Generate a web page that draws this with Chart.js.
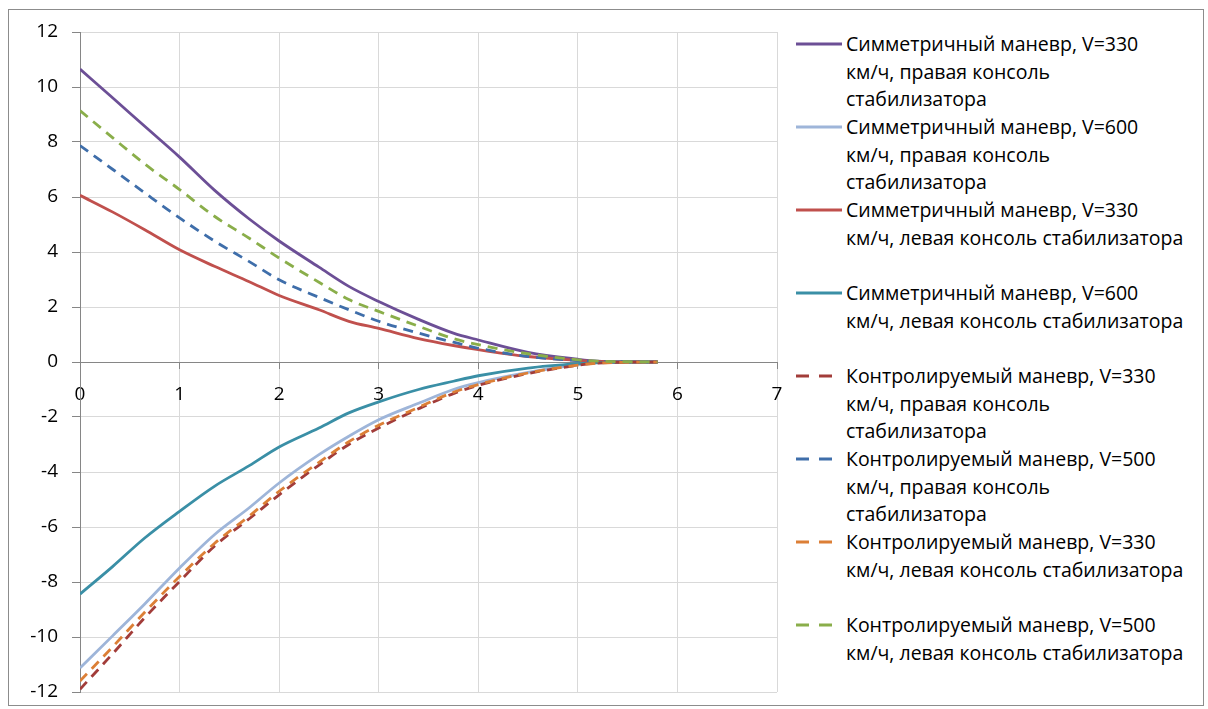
<!DOCTYPE html>
<html>
<head>
<meta charset="utf-8">
<title>Манёвр</title>
<script src="https://cdn.jsdelivr.net/npm/chart.js"></script>
<style>
  body { margin: 0; background: #fff; font-family: "Open Sans", sans-serif; }
  #frame { position: absolute; left: 8px; top: 9px; width: 1194px; height: 695px; border: 1px solid #8c8c8c; }
  #chart { position: absolute; left: 0; top: 0; }
  #legend { position: absolute; left: 796px; top: 30px; font-size: 19.5px; line-height: 27.7px; color: #000; }
  .item { position: relative; height: 83px; padding-left: 50px; white-space: nowrap; }
  .item svg { position: absolute; left: 0; top: 12px; }
</style>
</head>
<body>
<div id="frame"></div>
<canvas id="chart" width="790" height="709"></canvas>
<div id="legend"></div>
<script>
  const xValues = [0, 0.33, 0.65, 1, 1.35, 1.7, 2, 2.4, 2.7, 3, 3.4, 3.75, 4, 4.5, 5, 5.2, 5.5, 5.8];

  const sym330Right = [10.65, 9.6, 8.57, 7.45, 6.25, 5.2, 4.4, 3.45, 2.75, 2.2, 1.55, 1.05, 0.8, 0.35, 0.1, 0.03, 0.01, 0];
  const sym600Right = [-11.13, -9.95, -8.8, -7.49, -6.28, -5.3, -4.4, -3.37, -2.7, -2.1, -1.5, -1.0, -0.75, -0.38, -0.1, -0.03, -0.01, 0];
  const sym330Left = [6.06, 5.45, 4.81, 4.08, 3.48, 2.92, 2.42, 1.9, 1.48, 1.22, 0.85, 0.6, 0.45, 0.2, 0.06, 0.02, 0, 0];
  const sym600Left = [-8.44, -7.43, -6.4, -5.43, -4.52, -3.77, -3.09, -2.4, -1.85, -1.45, -1.0, -0.7, -0.5, -0.22, -0.06, -0.02, 0, 0];
  const ctl330Right = [-11.9, -10.6, -9.3, -7.98, -6.7, -5.7, -4.83, -3.75, -3.0, -2.4, -1.7, -1.15, -0.85, -0.42, -0.12, -0.04, -0.01, 0];
  const ctl500Right = [7.87, 7.0, 6.15, 5.24, 4.4, 3.65, 2.99, 2.35, 1.9, 1.48, 1.05, 0.72, 0.5, 0.2, 0.05, 0.02, 0, 0];
  const ctl330Left = [-11.6, -10.35, -9.1, -7.8, -6.6, -5.6, -4.7, -3.65, -2.9, -2.3, -1.65, -1.1, -0.82, -0.4, -0.11, -0.04, -0.01, 0];
  const ctl500Left = [9.14, 8.15, 7.2, 6.27, 5.3, 4.5, 3.78, 2.9, 2.27, 1.84, 1.3, 0.85, 0.63, 0.3, 0.08, 0.03, 0.01, 0];

  const seriesNames = [
    ['Симметричный маневр, V=330', 'км/ч, правая консоль', 'стабилизатора'],
    ['Симметричный маневр, V=600', 'км/ч, правая консоль', 'стабилизатора'],
    ['Симметричный маневр, V=330', 'км/ч, левая консоль стабилизатора'],
    ['Симметричный маневр, V=600', 'км/ч, левая консоль стабилизатора'],
    ['Контролируемый маневр, V=330', 'км/ч, правая консоль', 'стабилизатора'],
    ['Контролируемый маневр, V=500', 'км/ч, правая консоль', 'стабилизатора'],
    ['Контролируемый маневр, V=330', 'км/ч, левая консоль стабилизатора'],
    ['Контролируемый маневр, V=500', 'км/ч, левая консоль стабилизатора']
  ];
  const seriesValues = [sym330Right, sym600Right, sym330Left, sym600Left, ctl330Right, ctl500Right, ctl330Left, ctl500Left];
  const colors = ['#6c4f96', '#9eb5d9', '#c0504d', '#3a8fa6', '#a23c39', '#3f6eaa', '#dc7f36', '#8aae4a'];
  const dashed = [false, false, false, false, true, true, true, true];

  const datasets = seriesValues.map((vals, i) => ({
    label: seriesNames[i].join(' '),
    data: vals.map((v, j) => ({ x: xValues[j], y: v })),
    borderColor: colors[i],
    borderWidth: 2.8,
    borderDash: dashed[i] ? [10, 7] : [],
    pointRadius: 0,
    cubicInterpolationMode: 'monotone',
    fill: false,
    order: 8 - i
  }));

  new Chart(document.getElementById('chart'), {
    type: 'line',
    data: { datasets },
    options: {
      responsive: false,
      animation: false,
      devicePixelRatio: 1,
      layout: { padding: { top: 32, right: 13, bottom: 17, left: 0 } },
      plugins: { legend: { display: false }, tooltip: { enabled: false } },
      scales: {
        x: {
          type: 'linear', min: 0, max: 7, position: { y: 0 },
          ticks: { stepSize: 1, color: '#000', font: { family: 'Open Sans', size: 19 }, padding: 15 },
          grid: { color: '#d9d9d9', tickColor: '#868686', tickLength: 6 },
          border: { color: '#868686' },
          afterFit: s => { s.height = 0; s.paddingLeft = 0; s.paddingRight = 0; s.paddingTop = 0; s.paddingBottom = 0; }
        },
        y: {
          min: -12, max: 12,
          ticks: { stepSize: 2, color: '#000', font: { family: 'Open Sans', size: 19 }, padding: 14 },
          grid: { color: '#d9d9d9', tickColor: '#868686', tickLength: 8 },
          border: { color: '#868686' },
          afterFit: s => { s.width = 80; s.paddingTop = 0; s.paddingBottom = 0; }
        }
      }
    }
  });

  const legend = document.getElementById('legend');
  seriesNames.forEach((lines, i) => {
    const item = document.createElement('div');
    item.className = 'item';
    const dash = dashed[i] ? 'stroke-dasharray="13 10"' : '';
    item.innerHTML = '<svg width="46" height="4"><line x1="0" y1="2" x2="46" y2="2" stroke="' + colors[i] +
      '" stroke-width="3" ' + dash + '/></svg>' + lines.join('<br>');
    legend.appendChild(item);
  });
</script>
</body>
</html>
